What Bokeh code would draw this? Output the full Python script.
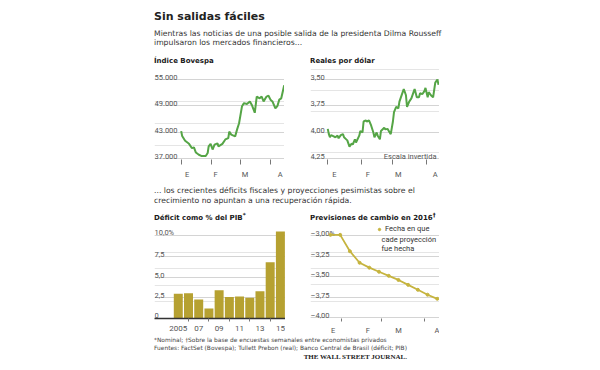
from bokeh.plotting import figure
from bokeh.models import (ColumnDataSource, Range1d, FixedTicker, Grid, Label, Div,
                          Spacer, Legend, LegendItem)
from bokeh.layouts import row, column
from bokeh.embed import file_html
from bokeh.resources import INLINE
from bokeh.core.properties import value

# ---------------- data ----------------
# days counted from 1 Jan 2016
bov_dia = [0, 1, 4, 8, 11, 13, 15, 18, 21, 25, 27, 28, 30, 32, 34, 37, 38, 42, 45, 48,
           49, 51, 55, 57, 59, 62, 64, 67, 70, 72, 75, 77, 80, 82, 84, 87, 89, 91, 93, 96,
           98, 100, 102, 105]
bov_val = [43200, 42100, 41000, 40300, 39300, 39500, 38300, 37800, 37500, 37500,
           38200, 39700, 40300, 39000, 40100, 40400, 39700, 40300, 41300, 41600,
           43100, 42400, 42000, 43600, 45000, 48900, 49600, 49400, 50000, 49200,
           47400, 51100, 50700, 51100, 50000, 51100, 51300, 50400, 50000, 48400,
           48900, 50400, 50700, 53700]
bov_ticks = [37000, 43000, 49000, 55000]
bov_tick_labels = ["37.000", "43.000", "49.000", "55.000"]

real_dia = [0, 1, 2, 3, 5, 7, 9, 10, 12, 14, 15, 17, 18, 20, 22, 23, 25, 26, 29, 30,
            32, 33, 35, 36, 38, 40, 42, 43, 45, 46, 48, 49, 52, 53, 55, 57, 58, 60, 61, 63,
            65, 66, 69, 70, 72, 73, 75, 77, 79, 80, 82, 84, 85, 87, 89, 90, 92, 93, 95, 97,
            99, 101, 102]
real_val = [3.97, 4.02, 4.05, 4.03, 4.04, 4.05, 4.035, 4.06, 4.03, 4.02,
            4.05, 4.07, 4.08, 4.14, 4.11, 4.12, 4.07, 4.10, 4.035, 3.99,
            4.005, 3.90, 3.89, 3.90, 3.89, 3.94, 4.005, 4.05, 4.005, 4.035,
            4.07, 3.99, 3.96, 3.975, 3.97, 4.005, 4.02, 3.90, 3.81, 3.76,
            3.775, 3.71, 3.62, 3.59, 3.65, 3.76, 3.71, 3.68, 3.62, 3.59,
            3.67, 3.67, 3.63, 3.64, 3.61, 3.58, 3.67, 3.62, 3.65, 3.67,
            3.53, 3.50, 3.55]
real_ticks = [3.50, 3.75, 4.00, 4.25]
real_tick_labels = ["3,50", "3,75", "4,00", "4,25"]

mes_inicio = [0, 31, 60, 91]
mes_etiquetas = ["E", "F", "M", "A"]
mes_pos_bov = [6, 35, 65, 101]
mes_pos_real = [6, 37, 65, 99]

def_anos = [2005, 2006, 2007, 2008, 2009, 2010, 2011, 2012, 2013, 2014, 2015]
def_val = [3.0, 3.05, 2.3, 1.2, 3.4, 2.6, 2.65, 2.5, 3.3, 6.8, 10.5]
def_ticks = [0, 2.5, 5.0, 7.5, 10.0]
def_tick_labels = ["0", "2,5", "5,0", "7,5", "10,0%"]
ano_etiq_pos = [2005, 2007, 2009, 2011, 2013, 2015]
ano_etiquetas = ["2005", "07", "09", "11", "13", "15"]
ano_menores = [2006, 2008, 2010, 2012, 2014]

prev_dia = [23, 30, 37, 44, 51, 58, 65, 72, 79, 86, 93, 100]
prev_val = [-2.99, -2.99, -3.19, -3.33, -3.39, -3.44, -3.49, -3.54, -3.60, -3.66, -3.72, -3.77]
prev_ticks = [-3.00, -3.25, -3.50, -3.75, -4.00]
prev_tick_labels = ["–3,00%", "–3,25", "–3,50", "–3,75", "–4,00"]
prev_mes_pos = [25, 50, 72, 100]
prev_mes_menores = [31, 60, 91]

titulos = ["Índice Bovespa", "Reales por dólar",
           "Déficit como % del PIB<sup>*</sup>", "Previsiones de cambio en 2016<sup>†</sup>"]

# ---------------- style ----------------
FONT = "Roboto"
GRID = "#d4d4d4"
GREEN = "#55a546"
BAR = "#b6a131"
OLIVE = "#c6b43f"
TXT = "#333333"
LAB = "#555555"


def make_fig(xr, yr, w, h):
    p = figure(width=w, height=h, x_range=Range1d(*xr), y_range=Range1d(*yr),
               output_backend="svg", toolbar_location=None, y_axis_location=None,
               min_border_left=0, min_border_right=0, min_border_top=0, min_border_bottom=18)
    p.outline_line_color = None
    p.xgrid.visible = False
    ax = p.xaxis[0]
    ax.major_label_text_font = FONT
    ax.major_label_text_font_size = "7.5px"
    ax.major_label_text_color = LAB
    ax.major_tick_out = 0
    ax.major_tick_in = 0
    ax.minor_tick_in = 0
    ax.minor_tick_line_color = "#777777"
    return p


def add_ylabels(p, ticks, labels, x0, offs):
    p.add_layout(Grid(dimension=1, ticker=FixedTicker(ticks=ticks),
                      grid_line_color=GRID, grid_line_width=1))
    src = ColumnDataSource(dict(x=[x0] * len(ticks), y=ticks, t=labels, o=offs))
    p.text(x="x", y="y", text="t", y_offset="o", source=src, text_font=value(FONT),
           text_font_size="7.5px", text_color=LAB, text_align="left",
           text_baseline="alphabetic")


def month_axis(p, major, labels, minor, tick_out, standoff):
    ax = p.xaxis[0]
    ax.ticker = FixedTicker(ticks=major, minor_ticks=minor)
    ax.major_label_overrides = {m: l for m, l in zip(major, labels)}
    ax.minor_tick_out = tick_out
    ax.major_label_standoff = standoff
    ax.axis_line_color = None


# --- Bovespa ---
p1 = make_fig((-27.2, 105.3), (36715, 57520), 130, 113)
add_ylabels(p1, bov_ticks, bov_tick_labels, -27.2, [-2] * 4)
p1.line(bov_dia, bov_val, line_color=GREEN, line_width=2)
month_axis(p1, mes_pos_bov, mes_etiquetas, mes_inicio, 5, 5)

# --- Reales por dólar (inverted) ---
p2 = make_fig((-15.9, 102.9), (4.262, 3.395), 129, 113)
add_ylabels(p2, real_ticks, real_tick_labels, -15.9, [-2] * 4)
p2.line(real_dia, real_val, line_color=GREEN, line_width=2)
month_axis(p2, mes_pos_real, mes_etiquetas, mes_inicio, 5, 5)
p2.add_layout(Label(x=102.9, y=4.25, text="Escala invertida", text_align="right",
                    text_baseline="alphabetic", x_offset=-3, y_offset=2,
                    text_font=FONT, text_font_size="7.5px", text_color=LAB))

# --- Déficit ---
p3 = make_fig((2002.67, 2015.5), (0, 11.35), 131, 113)
add_ylabels(p3, def_ticks, def_tick_labels, 2002.67, [-3, -2, -2, -2, -3])
p3.vbar(x=def_anos, top=def_val, width=0.88, fill_color=BAR, line_color=None)
ax3 = p3.xaxis[0]
ax3.ticker = FixedTicker(ticks=ano_etiq_pos, minor_ticks=ano_menores)
ax3.major_label_overrides = {a: l for a, l in zip(ano_etiq_pos, ano_etiquetas)}
ax3.minor_tick_out = 3
ax3.major_label_standoff = 4
ax3.axis_line_color = "#333333"
ax3.axis_line_width = 1.5
ax3.major_label_text_font_size = "8px"

# --- Previsiones ---
p4 = make_fig((8.6, 101.6), (-4.01, -2.864), 129, 113)
add_ylabels(p4, prev_ticks, prev_tick_labels, 8.6, [-2] * 5)
p4.line(prev_dia, prev_val, line_color=OLIVE, line_width=1.8)
dots = p4.scatter(prev_dia, prev_val, size=3, fill_color=OLIVE, line_color=OLIVE)
month_axis(p4, prev_mes_pos, mes_etiquetas, prev_mes_menores, 3, 4)
leg = Legend(items=[LegendItem(label="Fecha en que", renderers=[dots])], location=(66, 85),
             glyph_width=6, glyph_height=6, label_standoff=3, padding=0, margin=0, spacing=0,
             label_height=9, label_text_font=FONT, label_text_font_size="7.5px",
             label_text_color=TXT, border_line_color=None, background_fill_alpha=0)
p4.add_layout(leg)
for txt, yy in [("cade proyección", 79), ("fue hecha", 70)]:
    p4.add_layout(Label(x=71, y=yy, x_units="screen", y_units="screen", text=txt,
                        text_baseline="middle", text_font=FONT, text_font_size="7.5px",
                        text_color=TXT))

# ---------------- text blocks ----------------
SANS = "font-family:\"DejaVu Sans\";"


def title_div(txt, w, pad):
    return Div(width=w, height=17, margin=(0, 0, 0, 0), text=(
        f"<div style='{SANS}font-weight:bold;font-size:7px;line-height:10px;color:#1a1a1a;"
        f"padding-top:{pad}px;white-space:nowrap;'>{txt}</div>"))


head = Div(width=300, height=21, margin=(0, 0, 0, 0), text=(
    f"<div style='{SANS}font-weight:bold;font-size:11px;line-height:18px;"
    "color:#222;white-space:nowrap;'>Sin salidas fáciles</div>"))
sub = Div(width=300, height=22, margin=(0, 0, 0, 0), text=(
    f"<div style='{SANS}font-size:7.7px;line-height:9.3px;color:#333;white-space:nowrap;'>"
    "Mientras las noticias de una posible salida de la presidenta Dilma Rousseff<br>"
    "impulsaron los mercados financieros...</div>"))
mid = Div(width=300, height=26, margin=(0, 0, 0, 0), text=(
    f"<div style='{SANS}font-size:7.7px;line-height:10px;color:#333;"
    "padding-top:4.8px;white-space:nowrap;'>"
    "... los crecientes déficits fiscales y proyecciones pesimistas sobre el<br>"
    "crecimiento no apuntan a una recuperación rápida.</div>"))
foot = Div(width=288, height=25, margin=(0, 0, 0, 0), text=(
    f"<div style='{SANS}font-size:5.9px;line-height:7.5px;color:#444;white-space:nowrap;'>"
    "*Nominal; †Sobre la base de encuestas semanales entre economistas privados<br>"
    "Fuentes: FactSet (Bovespa); Tullett Prebon (real); Banco Central de Brasil (déficit; PIB)</div>"
    "<div style='font-family:\"Liberation Serif\";font-weight:bold;font-size:7px;"
    "line-height:10px;color:#222;text-align:right;'>"
    "THE WALL STREET JOURNAL.</div>"))

content = column(Spacer(width=10, height=8), head, sub,
                 row(title_div(titulos[0], 156, 2.3), title_div(titulos[1], 130, 2.3)),
                 row(p1, Spacer(width=26, height=10), p2), mid,
                 row(title_div(titulos[2], 156, 3.3), title_div(titulos[3], 130, 3.3)),
                 row(p3, Spacer(width=25, height=10), p4), foot)
layout = row(Spacer(width=154, height=10), content)

open("out.html", "w").write(file_html(layout, INLINE))
